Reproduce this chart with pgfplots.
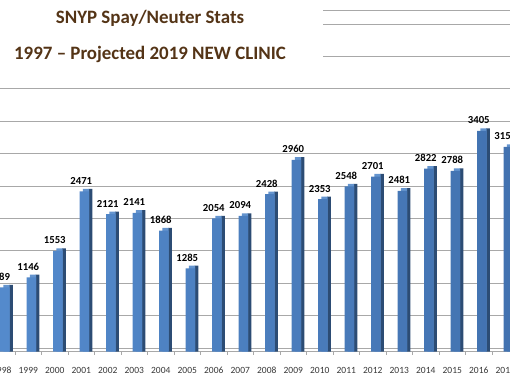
\documentclass[border=0pt]{standalone}
\usepackage{fontspec}
\setmainfont{Carlito}
\usepackage{pgfplots}
\pgfplotsset{compat=1.18}
\usepackage{pgfplotstable}
\definecolor{titlebrown}{RGB}{84,52,22}
\definecolor{barfrontL}{RGB}{84,138,204}
\definecolor{barfrontR}{RGB}{66,114,176}
\definecolor{barside}{RGB}{44,76,116}
\definecolor{bartop}{RGB}{100,148,206}
\definecolor{gridgray}{RGB}{168,168,168}
\definecolor{labelgray}{RGB}{55,55,55}

\pgfplotstableread{
year v
1998 989
1999 1146
2000 1553
2001 2471
2002 2121
2003 2141
2004 1868
2005 1285
2006 2054
2007 2094
2008 2428
2009 2960
2010 2353
2011 2548
2012 2701
2013 2481
2014 2822
2015 2788
2016 3405
2017 3158
}\data

\begin{document}
\begin{tikzpicture}
\path[use as bounding box] (0pt,-30.5pt) rectangle (510pt,351.5pt);
\clip (0pt,-30.5pt) rectangle (510pt,351.5pt);
\begin{axis}[
  at={(0pt,0pt)}, anchor=south west,
  scale only axis, width=510pt, height=340.8pt,
  xmin=1997.932, xmax=2017.177, ymin=0, ymax=5262,
  axis line style={draw=none},
  ytick={0,55,555,1055,1555,2055,2555,3055,3555,4055,4555,5055,5262},
  yticklabels={}, ytick style={draw=none},
  ymajorgrids, grid style={gridgray, line width=0.8pt},
  xtick={1998,...,2017},
  minor xtick={1997.5,1998.5,...,2017.5},
  scaled x ticks=false,
  xtick pos=bottom, tick align=outside,
  major tick length=0pt, minor tick length=3pt,
  xtick style={gridgray, line width=0.8pt},
  /pgf/number format/assume math mode=true,
  /pgf/number format/1000 sep={},
  xticklabel style={font=\fontsize{9.5}{11}\selectfont, text=labelgray,
    anchor=base, yshift=-21.5pt},
]
\addplot[ybar, bar width=3.8pt, bar shift=9.15pt, fill=barside, draw=none]
  table[x=year, y expr=\thisrow{v}+40] {\data};
\addplot[ybar, bar width=6.2pt, bar shift=4.65pt, fill=bartop, draw=none]
  table[x=year, y expr=\thisrow{v}+40] {\data};
\addplot[ybar, bar width=9.5pt, bar shift=3pt, draw=none,
  left color=barfrontL, right color=barfrontR,
  nodes near coords={\pgfmathprintnumber[1000 sep={}]{\pgfplotspointmeta}},
  every node near coord/.append style={font=\bfseries\fontsize{10.7}{12}\selectfont,
    text=black, anchor=base, inner sep=0pt, yshift=7pt}]
  table[x=year, y=v] {\data};
\end{axis}
\fill[white] (0pt,279.5pt) rectangle (323pt,352pt);
\node[anchor=base, font=\bfseries\fontsize{18.9}{22}\selectfont, text=titlebrown]
  at (150pt,327.5pt) {SNYP Spay/Neuter Stats};
\node[anchor=base, font=\bfseries\fontsize{18.9}{22}\selectfont, text=titlebrown]
  at (150pt,291.5pt) {1997 – Projected 2019 NEW CLINIC};
\end{tikzpicture}
\end{document}
